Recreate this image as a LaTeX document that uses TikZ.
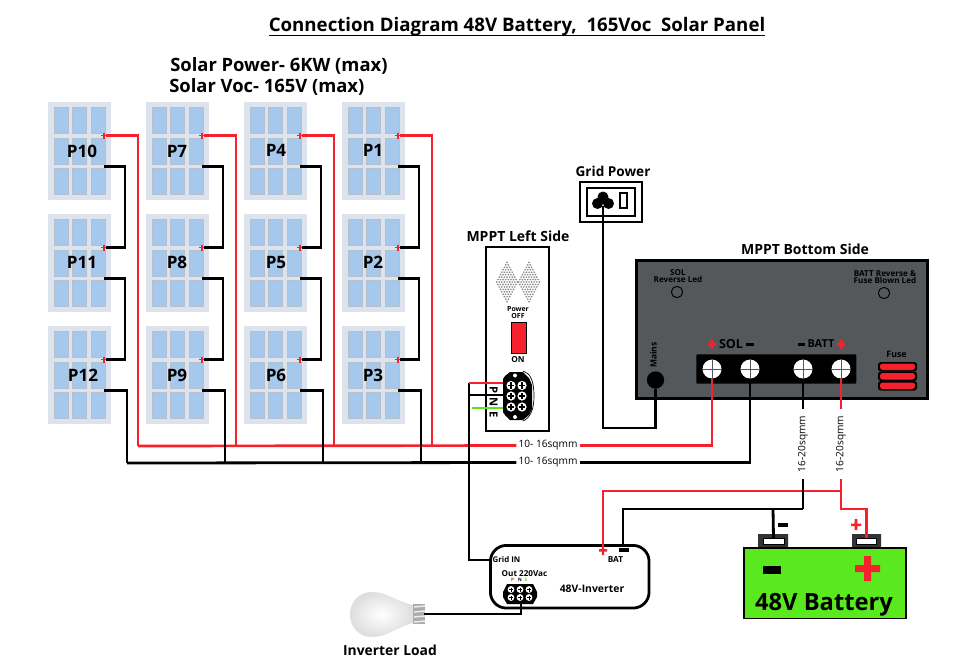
\documentclass[tikz,border=0pt]{standalone}
\usepackage{fontspec}
\setmainfont{Open Sans}
\usetikzlibrary{calc}
\definecolor{wred}{HTML}{F5222D}
\definecolor{wgreen}{HTML}{5FE01E}
\definecolor{pframe}{HTML}{DCE3EC}
\definecolor{pcell}{HTML}{A6C8EC}
\definecolor{pedge}{HTML}{B4C0CE}
\definecolor{mgray}{HTML}{54585A}
\definecolor{batg}{HTML}{5AE81E}
\definecolor{bulbg}{HTML}{DEDEDE}
\newcommand{\fpx}[1]{\fontsize{#1}{#1}\selectfont\bfseries}
\tikzset{
  x=0.75pt,y=-0.75pt,
  panel/.style={draw=pframe,fill=pframe,line width=0.4pt,minimum width=46.5pt,minimum height=72.75pt,inner sep=0pt,anchor=north west},
  cell/.style={fill=pcell,draw=pedge,line width=0.5pt},
  plabel/.style={font=\fpx{12.8},inner sep=0pt},
  blackw/.style={draw=black,line width=2.1pt,line join=miter},
  redw/.style={draw=wred,line width=2pt,line join=miter},
  greenw/.style={draw=wgreen,line width=2pt},
  txt/.style={inner sep=0pt,font=\fpx{9.6}},
  tiny/.style={inner sep=0pt,font=\fpx{5.2}},
  wlabel/.style={fill=white,inner sep=1.5pt,font=\fontsize{7.6}{8}\selectfont},
  screw/.style={circle,fill=white,minimum size=14.2pt,inner sep=0pt},
}
\newcommand{\onepanel}[5]{% name, x, y, labelx, labely
  \node[panel] (#1) at (#2,#3) {};
  \foreach \cx in {6,24.5,43}\foreach \cy in {5,36,66}{
    \fill[cell] (#2+\cx,#3+\cy) rectangle (#2+\cx+14,#3+\cy+26);}
  \node[plabel] (#1t) at (#4,#5) {#1};
  \coordinate (#1pos) at (#2+58,#3+33.5);
  \coordinate (#1neg) at (#2+56,#3+64.5);
  \draw[wred,line width=1.2pt] ($(#1pos)+(-5,0)$) -- ($(#1pos)+(1,0)$) ($(#1pos)+(-2,-3)$) -- ($(#1pos)+(-2,3)$);
}
\newcommand{\bscrew}[3]{% name,x,y
  \node[screw] (#1) at (#2,#3) {};
  \draw[mgray,line width=0.7pt] (#2-9.5,#3) -- (#2+9.5,#3) (#2,#3-9.5) -- (#2,#3+9.5);
}
\newcommand{\lscrew}[2]{
  \fill[white] (#1,#2) circle (4.6);
  \draw[black,line width=1pt] (#1-3.2,#2) -- (#1+3.2,#2) (#1,#2-3.2) -- (#1,#2+3.2);
}
\begin{document}
\begin{tikzpicture}
\useasboundingbox (0,0) rectangle (980,669);
\fill[white] (0,0) rectangle (980,669);

% titles
\node[font=\fpx{14},inner sep=0pt,anchor=base] (ttl) at (517,31.5) {Connection Diagram 48V Battery,\ \ 165Voc\ \ Solar Panel};
\draw[black,line width=1pt] (269,35.5) -- (765,35.5);
\node[font=\fpx{13.8},inner sep=0pt,anchor=base west] (t1) at (170,71) {Solar Power- 6KW (max)};
\node[font=\fpx{13.8},inner sep=0pt,anchor=base west] (t2) at (169,92) {Solar Voc- 165V (max)};

% panels
\onepanel{P10}{48}{102}{82}{151}
\onepanel{P7}{146}{102}{177}{151}
\onepanel{P4}{244}{102}{276}{150}
\onepanel{P1}{342}{102}{373}{150}
\onepanel{P11}{48}{214}{82}{262}
\onepanel{P8}{146}{214}{177}{262}
\onepanel{P5}{244}{214}{276}{262}
\onepanel{P2}{342}{214}{373}{262}
\onepanel{P12}{48}{326}{83}{375}
\onepanel{P9}{146}{326}{177}{375}
\onepanel{P6}{244}{326}{276}{375}
\onepanel{P3}{342}{326}{373}{375}

% bus labels
\node[wlabel] (lab1) at (548,445.5) {10- 16sqmm};
\node[wlabel] (lab2) at (548,462.5) {10- 16sqmm};

% Grid socket
\node[draw=black,line width=2pt,minimum width=46.5pt,minimum height=30pt,inner sep=0pt] (socket) at (611,202) {};
\node[draw=black,line width=2pt,minimum width=36pt,minimum height=21pt,inner sep=0pt] (socketin) at (611,202) {};
\fill (603,197) circle (5.5) (597.5,203.5) circle (5.5) (608.5,203.5) circle (5.5);
\coordinate (gridplug) at (603,206);
\draw[black,line width=1.6pt] (620,193) rectangle (627,208);
\node[font=\fpx{10.2},inner sep=0pt] (gridt) at (613,171) {Grid Power};

% MPPT left side
\node[font=\fpx{10.5},inner sep=0pt] (mlt) at (518,236) {MPPT Left Side};
\node[draw=black,line width=1.4pt,fill=white,inner sep=0pt,minimum width=47.25pt,minimum height=138pt,anchor=north west] (mleft) at (485,246) {};
\foreach \dx in {507,529}{
  \foreach \r in {-8,...,8}{
    \pgfmathtruncatemacro\nn{8-abs(\r)}
    \foreach \k in {0,...,\nn}{
      \fill[gray!90] (\dx-\nn*1.3+\k*2.6,282+\r*2.45) circle (0.95);
    }
  }
}
\node[tiny] (pw) at (518,309) {Power};
\node[tiny] (off) at (518,316) {OFF};
\node[draw=black,line width=0.8pt,fill=wred,minimum width=11.25pt,minimum height=23.25pt,inner sep=0pt,anchor=north west] (sw) at (511,322) {};
\node[tiny,font=\fpx{6.2}] (on) at (518,359.5) {ON};
\fill[black] (510,372) -- (523,372) -- (529,378) -- (532,385) -- (532,409) -- (529,415) -- (523,420) -- (510,420) -- (505,415) -- (503,412) -- (503,379) -- (505,376) -- cycle;
\draw[black,line width=0.5pt] (523,371) .. controls (530,373) and (534,380) .. (534,396) .. controls (534,410) and (530,418) .. (523,421);
\foreach \sx in {511,522}\foreach \sy in {385.5,396,407}{\lscrew{\sx}{\sy}}
\fill[white] (515,375.5) circle (2) (515,417) circle (2);
\node[txt,rotate=-90,font=\fpx{8.4}] (lp) at (493.5,390) {P};
\node[txt,rotate=-90,font=\fpx{8.4}] (ln) at (493.5,402.5) {N};
\node[txt,rotate=-90,font=\fpx{8.4}] (le) at (493.5,415) {E};

% MPPT bottom side
\node[font=\fpx{10.5},inner sep=0pt] (mbt) at (805,249) {MPPT Bottom Side};
\node[draw=black,line width=2.2pt,fill=mgray,inner sep=0pt,minimum width=218.25pt,minimum height=103.5pt,anchor=north west] (mbot) at (635,259) {};
\node[tiny,font=\fpx{6.1},align=center] (solled) at (678,276.5) {SOL\\[-0.8pt]Reverse Led};
\node[tiny,font=\fpx{6.1},align=center] (batled) at (885,277) {BATT Reverse \&\\[-0.8pt]Fuse Blown Led};
\node[circle,draw=black,line width=0.7pt,minimum size=8.5pt,inner sep=0pt] (led1) at (677,292) {};
\node[circle,draw=black,line width=0.7pt,minimum size=8.5pt,inner sep=0pt] (led2) at (884,293) {};
\node[tiny,font=\fpx{6.4},rotate=90] (mainst) at (653.5,355) {Mains};
\node[circle,fill=black,minimum size=13pt,inner sep=0pt] (mains) at (655.5,380) {};
\node[fill=black,rounded corners=0.8pt,minimum width=120pt,minimum height=22pt,inner sep=0pt,anchor=north west] (tb) at (696,354) {};
\bscrew{s1}{712}{369}
\bscrew{s2}{750}{369}
\bscrew{s3}{803}{369}
\bscrew{s4}{841}{369}
\fill[wred] (708,342.5) rectangle (716,345.5) (710.5,339.5) rectangle (713.5,348.5);
\fill[wred] (837,342.5) rectangle (845,345.5) (839.5,339.5) rectangle (842.5,348.5);
\node[txt,font=\fpx{9.4}] (solt) at (731,344) {SOL};
\fill[black] (746,342.5) rectangle (754,345.5);
\fill[black] (798,342.5) rectangle (805,345.5);
\node[txt,font=\fpx{8.2}] (batt) at (821,344) {BATT};
\node[tiny,font=\fpx{6.6}] (fuset) at (896.5,354) {Fuse};
\foreach \fy in {362,371.5,381}{
  \fill[black,rounded corners=2pt] (878,\fy) rectangle (917,\fy+9.5);
  \fill[wred,rounded corners=2pt] (880,\fy+1.5) rectangle (915,\fy+8);
}

% Battery
\fill[black!80] (758,534) rectangle (788,547) (852,534) rectangle (881,547);
\node[draw=black,line width=0.4pt,fill=white,minimum width=15.5pt,minimum height=4.2pt,inner sep=0pt] (bneg) at (773.5,541) {};
\node[draw=black,line width=0.4pt,fill=white,minimum width=15pt,minimum height=4.2pt,inner sep=0pt] (bpos) at (866.5,541) {};
\node[draw=black,line width=1.3pt,fill=batg,minimum width=121.5pt,minimum height=53pt,inner sep=0pt,anchor=north west] (bat) at (743,547) {};
\fill[black] (763,566) rectangle (781,573.5);
\fill[wred] (855,565) rectangle (880,572) (864,556) rectangle (871,581);
\node[inner sep=0pt,font=\fpx{17.8},anchor=base] (batname) at (824,610) {48V Battery};
\fill[black] (778,523) rectangle (788,527);
\fill[wred] (851,523.5) rectangle (861,526) (854.7,519) rectangle (857.3,530);

% Inverter
\node[draw=black,line width=2.1pt,fill=white,rounded corners=12pt,minimum width=119pt,minimum height=47pt,inner sep=0pt,anchor=north west] (inv) at (489,544) {};
\node[tiny,font=\fpx{5.9}] (gin) at (506.5,559.5) {Grid IN};
\node[tiny,font=\fpx{6.2}] (batl) at (615.5,560) {BAT};
\fill[black] (619,548) rectangle (629,552);
\fill[wred] (599,549) rectangle (607,551.5) (601.8,545.5) rectangle (604.2,555);
\node[tiny,font=\fpx{6.1}] (ot) at (524.5,574) {Out 220Vac};
\node[inner sep=0pt,font=\fontsize{3.4}{3.4}\selectfont\bfseries,text=wred] (op) at (512.5,579.5) {P};
\node[inner sep=0pt,font=\fontsize{3.4}{3.4}\selectfont\bfseries] (on2) at (520,579.5) {N};
\node[inner sep=0pt,font=\fontsize{3.4}{3.4}\selectfont\bfseries,text=wgreen] (oe) at (526,579.5) {E};
\node[inner sep=0pt,font=\fpx{7.8}] (invn) at (592,589) {48V-Inverter};
\fill[black] (507,584) -- (533,584) -- (537,592) -- (537,597) -- (533,604) -- (507,604) -- (503,597) -- (503,592) -- cycle;
\node[inner sep=0pt,minimum width=25pt,minimum height=14pt] (otb) at (521,594) {};
\foreach \sx in {511,520,529}\foreach \sy in {589.5,597.5}{
  \fill[white] (\sx,\sy) circle (3.4);
  \draw[black,line width=0.6pt] (\sx-2,\sy) -- (\sx+2,\sy) (\sx,\sy-2) -- (\sx,\sy+2);
}

% Bulb
\shade[inner color=white,outer color=bulbg]
 (413,605) .. controls (395,601) and (387,592) .. (372,592)
 .. controls (358,592) and (350,603) .. (350,614.5)
 .. controls (350,626) and (358,637) .. (372,637)
 .. controls (387,637) and (395,628) .. (413,623) -- cycle;
\fill[gray!65] (413,604) rectangle (425,624);
\foreach \by in {607,612,617,622}{\draw[white!85!gray,line width=1.1pt] (414,\by) -- (425,\by-1);}
\coordinate (bulbend) at (424,614);
\node[font=\fpx{10.4},inner sep=0pt] (loadt) at (390,650) {Inverter Load};

% wire labels for the battery cables
\node[wlabel,rotate=90,inner xsep=5pt] (lab3) at (803,444) {16-20sqmm};
\node[wlabel,rotate=90,inner xsep=5pt] (lab4) at (841,444) {16-20sqmm};

% series links
\foreach \cola/\colb in {P10/P11,P7/P8,P4/P5,P1/P2,P11/P12,P8/P9,P5/P6,P2/P3}{
  \draw[blackw] (\cola neg) -- ++(21,0) |- (\colb pos);
}
% bus
\coordinate (rb1) at (138,446);
\coordinate (rb2) at (236,446);
\coordinate (rb3) at (334,446);
\coordinate (rb4) at (432,446);
\coordinate (bb1) at (127,463);
\coordinate (bb2) at (225,463);
\coordinate (bb3) at (323,463);
\coordinate (bb4) at (421,463);
\draw[redw] (P10pos) -| (rb1);
\draw[redw] (P7pos) -| (rb2);
\draw[redw] (P4pos) -| (rb3);
\draw[redw] (P1pos) -| (rb4);
\draw[redw] (rb1) -- (lab1.west);
\draw[redw] (lab1.east) -| (s1.south);
\draw[blackw] (P12neg) -| (bb1);
\draw[blackw] (P9neg) -| (bb2);
\draw[blackw] (P6neg) -| (bb3);
\draw[blackw] (P3neg) -| (bb4);
\draw[blackw] (bb1) -- (lab2.west);
\draw[blackw] (lab2.east) -| (s2.south);

% mains
\draw[blackw] (mains.south) |- (603,428) -- (gridplug);

% MPPT left wiring
\coordinate (lj) at (469,383);
\draw[blackw] (lj) -- (469,395) -- (469,560) -- (inv.west |- 0,560);
\draw[redw] (lj) -- (503,383);
\draw[blackw] (469,395) -- (503,395);
\draw[greenw] (472,408) -- (503,408);

% battery wiring
\coordinate (bj1) at (803,509);
\coordinate (rj1) at (841,491);
\coordinate (rj2) at (841,509);
\draw[redw] (603,547) |- (rj1);
\draw[blackw] (623,544) |- (bj1);
\draw[blackw] (773,509) -- (bneg.north);
\draw[blackw] (s3.south) -- (lab3.east);
\draw[blackw] (lab3.west) -- (bj1);
\draw[redw] (s4.south) -- (lab4.east);
\draw[redw] (lab4.west) -- (rj2) -| (bpos.north);

% load
\draw[blackw] (otb.south) |- (bulbend);
\end{tikzpicture}
\end{document}
